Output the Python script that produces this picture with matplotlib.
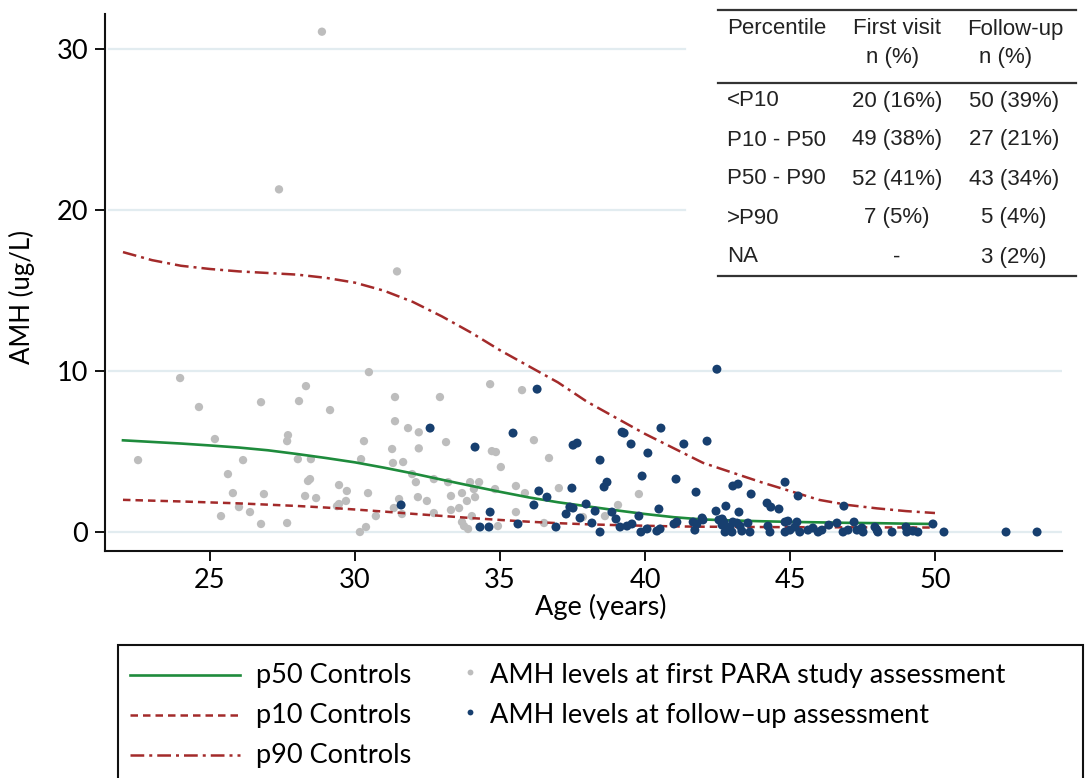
import matplotlib
matplotlib.use('Agg')
import matplotlib.pyplot as plt
from matplotlib.lines import Line2D
from matplotlib.patches import Rectangle

# ---------------- data ----------------
first_age = [23.97, 24.62, 30.48, 28.31, 26.76, 28.07, 29.14, 31.38, 31.38, 31.83,
             25.17, 27.69, 27.66, 30.31, 31.28, 22.52, 26.14, 28.03, 28.48, 30.21,
             31.31, 31.66, 25.62, 28.45, 28.38, 29.45, 29.72, 25.79, 26.86, 28.28,
             28.66, 30.45, 29.69, 29.45, 29.38, 26.00, 26.38, 25.38, 26.76, 27.66,
             30.72, 30.38, 30.17, 31.52, 31.34, 31.62, 31.97, 32.10, 32.17, 32.20,
             28.86, 27.38, 31.45,
             32.20, 33.14, 34.72, 34.86, 35.03, 32.72, 33.21, 33.97, 34.28, 33.69,
             34.10, 34.83, 35.55, 33.31, 34.14, 32.48, 33.86, 32.72, 33.31, 33.59,
             34.03, 35.55, 33.69, 33.76, 33.90, 34.93, 32.93,
             34.66, 35.76, 36.17, 36.69, 37.03, 39.79, 39.07, 36.52,
             35.86, 38.62, 37.86]
first_amh = [9.57, 7.77, 9.94, 9.07, 8.07, 8.14, 7.58, 8.39, 6.89, 6.46,
             5.78, 6.02, 5.65, 5.65, 5.16, 4.47, 4.47, 4.53, 4.53, 4.53,
             4.29, 4.35, 3.60, 3.29, 3.17, 2.92, 2.55, 2.42, 2.36, 2.24,
             2.11, 2.42, 1.93, 1.74, 1.61, 1.55, 1.24, 0.99, 0.50, 0.56,
             0.99, 0.31, 0.00, 2.05, 1.49, 1.12, 3.60, 3.10, 2.17, 5.20,
             31.1, 21.3, 16.2,
             6.20, 5.59, 5.03, 4.97, 4.04, 3.29, 3.10, 3.10, 3.10, 2.42,
             2.67, 2.67, 2.86, 2.24, 2.17, 1.93, 1.93, 1.18, 1.37, 1.49,
             0.99, 1.24, 0.62, 0.37, 0.19, 0.37, 8.39,
             9.19, 8.82, 5.71, 4.60, 2.73, 2.36, 1.68, 0.56,
             2.42, 0.99, 0.93]

follow_age = [32.59, 34.14, 35.45, 31.59, 34.66, 34.31, 34.62, 35.62,
              36.28, 42.48,
              39.21, 39.28, 40.55, 37.52, 37.66, 39.52, 41.34, 42.14, 40.10, 38.45,
              39.90, 41.07, 38.69, 38.59, 37.48, 36.34, 36.62, 41.76, 36.17, 37.41,
              37.52, 37.97, 37.28, 38.28, 38.86, 37.76, 38.17, 39.00, 39.79, 40.48,
              42.45, 36.93, 38.45, 39.14, 39.38, 39.55, 39.86, 40.07, 40.41, 40.52,
              41.00, 41.10, 41.66, 41.79, 41.72, 41.97, 42.00, 42.55,
              43.03, 43.21, 43.66, 44.83, 45.28, 44.21, 44.34, 44.62, 46.86, 42.79,
              43.24, 42.66, 42.72, 43.03, 43.17, 43.55, 42.66, 42.93, 43.28, 42.76,
              43.00, 43.34, 43.62, 44.24, 44.31, 44.83, 44.93, 45.24, 44.83, 45.00,
              45.34, 45.17, 45.62, 45.79, 45.97, 46.10, 46.34, 46.62, 46.83, 47.00,
              47.21, 47.31, 47.48, 47.52, 47.93, 48.00, 48.03, 48.52, 49.00, 49.03,
              49.24, 49.41, 49.93, 50.31, 52.45, 53.52]
follow_amh = [6.46, 5.28, 6.15, 1.68, 1.24, 0.31, 0.31, 0.50,
              8.88, 10.12,
              6.21, 6.15, 6.46, 5.40, 5.53, 5.47, 5.47, 5.65, 4.91, 4.47,
              3.48, 3.29, 3.10, 2.80, 2.73, 2.55, 2.17, 2.48, 1.68, 1.55,
              1.49, 1.74, 1.12, 1.30, 1.24, 0.87, 0.56, 0.81, 0.99, 1.43,
              1.30, 0.31, 0.00, 0.31, 0.37, 0.50, 0.00, 0.19, 0.06, 0.19,
              0.50, 0.62, 0.62, 0.50, 0.12, 0.87, 0.75, 0.75,
              2.86, 2.98, 2.36, 3.10, 2.24, 1.80, 1.55, 1.43, 1.61, 1.61,
              1.24, 0.81, 0.62, 0.62, 0.56, 0.56, 0.43, 0.31, 0.37, 0.00,
              0.00, 0.06, 0.00, 0.37, 0.00, 0.62, 0.68, 0.62, 0.00, 0.12,
              0.00, 0.31, 0.12, 0.25, 0.00, 0.12, 0.43, 0.56, 0.00, 0.12,
              0.62, 0.12, 0.25, 0.00, 0.31, 0.12, 0.00, 0.00, 0.31, 0.00,
              0.06, 0.00, 0.50, 0.00, 0.00, 0.00]

ctrl_age = list(range(22, 51))
p90 = [17.4, 16.9, 16.55, 16.35, 16.2, 16.1, 16.0, 15.8, 15.5, 15.0,
       14.3, 13.4, 12.4, 11.3, 10.3, 9.3, 8.1, 7.1, 6.1, 5.2,
       4.3, 3.7, 3.1, 2.55, 2.0, 1.68, 1.47, 1.3, 1.18]
p50 = [5.7, 5.6, 5.5, 5.38, 5.25, 5.08, 4.85, 4.6, 4.33, 4.0,
       3.64, 3.25, 2.87, 2.5, 2.15, 1.85, 1.6, 1.35, 1.12, 0.92,
       0.78, 0.72, 0.67, 0.63, 0.6, 0.57, 0.55, 0.52, 0.5]
p10 = [2.0, 1.95, 1.9, 1.84, 1.78, 1.7, 1.62, 1.52, 1.4, 1.27,
       1.13, 1.0, 0.87, 0.75, 0.64, 0.55, 0.48, 0.43, 0.39, 0.35,
       0.33, 0.32, 0.31, 0.3, 0.3, 0.29, 0.29, 0.28, 0.28]

x_ticks = [25, 30, 35, 40, 45, 50]
y_ticks = [0, 10, 20, 30]

tbl_header1 = ["Percentile", "First visit", "Follow-up"]
tbl_header2 = ["", "n (%)", "n (%)"]
tbl_pct = ["<P10", "P10 - P50", "P50 - P90", ">P90", "NA"]
tbl_first = ["20 (16%)", "49 (38%)", "52 (41%)", "7 (5%)", "-"]
tbl_follow = ["50 (39%)", "27 (21%)", "43 (34%)", "5 (4%)", "3 (2%)"]

legend_labels = ["p50 Controls", "p10 Controls", "p90 Controls",
                 "AMH levels at first PARA study assessment",
                 "AMH levels at follow\u2013up assessment"]

# ---------------- style ----------------
GREEN = "#1e8b3c"
RED = "#a32a2a"
GREY = "#bdbdbd"
NAVY = "#173f6f"
GRID = "#e2ecf0"
FONT = ["Lato", "DejaVu Sans"]
TFONT = ["Liberation Sans", "DejaVu Sans"]

W, H = 1088, 778
fig = plt.figure(figsize=(W / 100, H / 100), dpi=100)
fig.patch.set_facecolor("white")


def fx(px):
    return px / W


def fy(py):
    return 1 - py / H


ax = fig.add_axes([fx(105), fy(551), fx(1062) - fx(105), fy(14) - fy(551)])
ax.set_xlim(21.38, 54.38)
ax.set_ylim(-1.18, 32.2)
for s in ["top", "right"]:
    ax.spines[s].set_visible(False)
for s in ["left", "bottom"]:
    ax.spines[s].set_linewidth(1.5)
    ax.spines[s].set_color("#111111")

# gridlines (upper ones hidden behind the table)
grid_cut = (685 - 105) / (1062 - 105)
for yv in y_ticks:
    xmax = 1.0 if yv < 15 else grid_cut
    ax.axhline(yv, xmin=0.004, xmax=xmax, color=GRID, lw=1.6, zorder=0)

P10_DASH = (3.0, 2.0)
P90_DASH = (5.5, 2.0, 1.2, 2.0)
ax.scatter(first_age, first_amh, s=36, color=GREY, edgecolors="none", zorder=2)
ax.plot(ctrl_age, p50, color=GREEN, lw=1.9, zorder=3)
ax.plot(ctrl_age, p10, color=RED, lw=1.8, dashes=P10_DASH, zorder=3)
ax.plot(ctrl_age, p90, color=RED, lw=1.8, dashes=P90_DASH, zorder=3)
ax.scatter(follow_age, follow_amh, s=42, color=NAVY, edgecolors="none", zorder=4)

ax.set_xticks(x_ticks)
ax.set_yticks(y_ticks)
ax.tick_params(direction="out", length=7, width=1.4, color="#111111", pad=5)
for lab in ax.get_xticklabels() + ax.get_yticklabels():
    lab.set_fontfamily(FONT)
    lab.set_fontsize(19.5)

fig.text(fx(601), fy(607), "Age (years)", ha="center", va="center",
         fontsize=19.5, family=FONT)
fig.text(fx(22), fy(297), "AMH (ug/L)", ha="center", va="center",
         rotation=90, fontsize=18.5, family=FONT)

# ---------------- table ----------------
TC = "#222222"
for ypx in [10, 83, 276]:
    fig.add_artist(Line2D([fx(718), fx(1076)], [fy(ypx), fy(ypx)],
                          color="#333333", lw=1.6))
col_x = [727, 897, 1015]
hdr2_x = [None, 893, 1006]
fig.text(fx(col_x[0]), fy(29), tbl_header1[0], ha="left", va="center",
         fontsize=16, family=TFONT, color=TC)
for i in (1, 2):
    fig.text(fx(col_x[i]), fy(29), tbl_header1[i], ha="center", va="center",
             fontsize=16, family=TFONT, color=TC)
    fig.text(fx(hdr2_x[i]), fy(58), tbl_header2[i], ha="center", va="center",
             fontsize=16, family=TFONT, color=TC)
row_y = [101, 140, 179, 218, 257]
for r, yp in enumerate(row_y):
    fig.text(fx(col_x[0]), fy(yp), tbl_pct[r], ha="left", va="center",
             fontsize=16, family=TFONT, color=TC)
    fig.text(fx(col_x[1]), fy(yp), tbl_first[r], ha="center", va="center",
             fontsize=16, family=TFONT, color=TC)
    fig.text(fx(1014), fy(yp), tbl_follow[r], ha="center", va="center",
             fontsize=16, family=TFONT, color=TC)

# ---------------- legend ----------------
fig.add_artist(Rectangle((fx(118), fy(800)), fx(1083) - fx(118), fy(645) - fy(800),
                         fill=False, edgecolor="#111111", lw=1.5))
leg_rows = [675, 715, 755]
line_styles = [dict(color=GREEN, lw=1.9),
               dict(color=RED, lw=1.8, dashes=P10_DASH),
               dict(color=RED, lw=1.8, dashes=P90_DASH)]
for i in range(3):
    fig.add_artist(Line2D([fx(130), fx(240)], [fy(leg_rows[i]), fy(leg_rows[i])],
                          **line_styles[i]))
    fig.text(fx(256), fy(leg_rows[i]), legend_labels[i], ha="left", va="center",
             fontsize=19.5, family=FONT)
for j, col in enumerate([GREY, NAVY]):
    fig.add_artist(Line2D([fx(470)], [fy(leg_rows[j] - 3)], marker="o",
                          markersize=4.2, color=col, markeredgewidth=0, lw=0))
    fig.text(fx(490), fy(leg_rows[j]), legend_labels[3 + j], ha="left", va="center",
             fontsize=19.5, family=FONT)

fig.savefig("out.png", dpi=100, facecolor="white")
